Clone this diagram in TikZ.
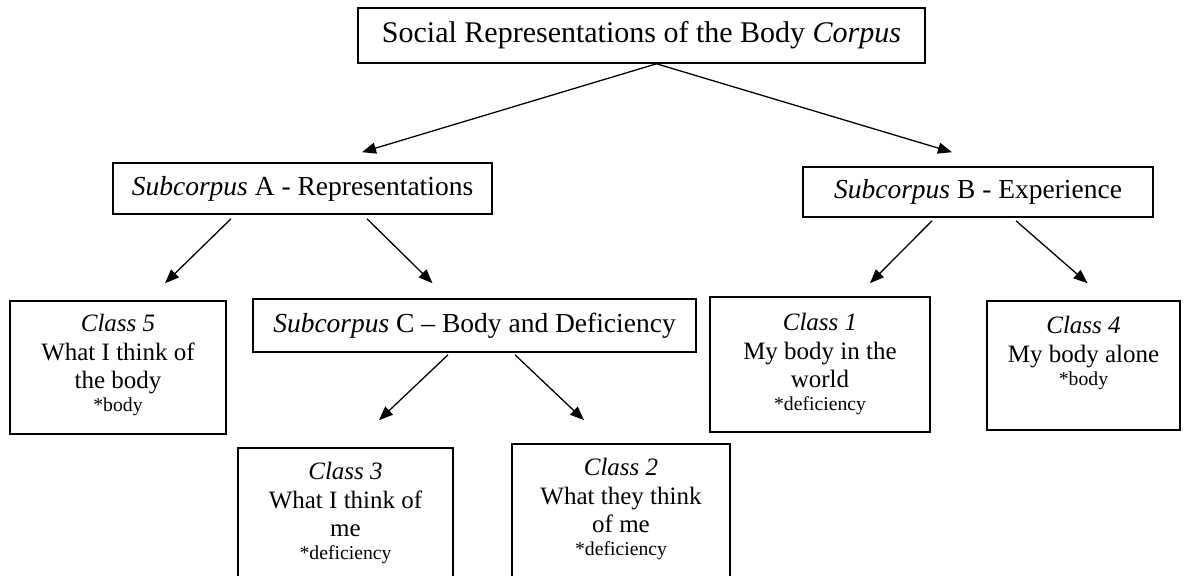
\documentclass[tikz,border=0pt]{standalone}
\usepackage{fontspec}
\setmainfont{Liberation Serif}
\usetikzlibrary{arrows.meta}
\newcommand{\kw}[1]{{\fontsize{19.7}{22}\selectfont *#1}}
\begin{document}
\begin{tikzpicture}[>={Triangle[length=14pt,width=11pt]}, x=1pt, y=-1pt,
  box/.style={draw, line width=1.6pt, inner sep=0pt},
  head/.style={box, font=\fontsize{27.5}{32}\selectfont},
  txt/.style={align=center, anchor=north, inner sep=0pt, font=\fontsize{25}{28.5}\selectfont},
  arr/.style={->, line width=1.3pt}]
\useasboundingbox (0,0) rectangle (1187,576);
% corpus and subcorpora
\node[head, minimum width=567pt, minimum height=55pt, font=\fontsize{30}{35}\selectfont](corpus) at (641.5,35.5){Social Representations of the Body \textit{Corpus}};
\node[head, minimum width=379pt, minimum height=51pt](subA) at (302.5,188.5){\textit{Subcorpus} A - Representations};
\node[head, minimum width=350pt, minimum height=50pt](subB) at (978,192){\textit{Subcorpus} B - Experience};
\node[head, minimum width=443pt, minimum height=53pt](subC) at (474.5,325.5){\textit{Subcorpus} C – Body and Deficiency};
% classes
\node[box, minimum width=216pt, minimum height=133pt](cl5) at (118,367.5){};
\node[box, minimum width=215pt, minimum height=160pt](cl3) at (345.5,528){};
\node[box, minimum width=218pt, minimum height=160pt](cl2) at (621,524){};
\node[box, minimum width=220pt, minimum height=135pt](cl1) at (820,364.5){};
\node[box, minimum width=193pt, minimum height=129pt](cl4) at (1083.5,365.5){};
\node[txt](cl5t) at ([yshift=-14pt]cl5.north){\textit{Class 5}\\What I think of\\the body\\[-5.5pt]\kw{body}};
\node[txt](cl3t) at ([yshift=-15pt]cl3.north){\textit{Class 3}\\What I think of\\me\\[-5.5pt]\kw{deficiency}};
\node[txt](cl2t) at ([yshift=-15pt]cl2.north){\textit{Class 2}\\What they think\\of me\\[-5.5pt]\kw{deficiency}};
\node[txt](cl1t) at ([yshift=-17pt]cl1.north){\textit{Class 1}\\My body in the\\world\\[-5.5pt]\kw{deficiency}};
\node[txt](cl4t) at ([yshift=-16pt]cl4.north){\textit{Class 4}\\My body alone\\[-5.5pt]\kw{body}};
% arrows
\draw[arr]([xshift=15pt]corpus.south)--([xshift=59.5pt,yshift=10pt]subA.north);
\draw[arr]([xshift=15pt]corpus.south)--([xshift=-26pt,yshift=14pt]subB.north);
\draw[arr]([xshift=-71.5pt,yshift=-4pt]subA.south)--([xshift=47pt,yshift=17pt]cl5.north);
\draw[arr]([xshift=64.5pt,yshift=-4pt]subA.south)--([xshift=-42pt,yshift=15pt]subC.north);
\draw[arr]([xshift=-26.5pt,yshift=-2pt]subC.south)--([xshift=33.5pt,yshift=27pt]cl3.north);
\draw[arr]([xshift=40.5pt,yshift=-2pt]subC.south)--([xshift=-37pt,yshift=23pt]cl2.north);
\draw[arr]([xshift=-46pt,yshift=-3pt]subB.south)--([xshift=50pt,yshift=13pt]cl1.north);
\draw[arr]([xshift=38pt,yshift=-3pt]subB.south)--([xshift=4pt,yshift=17pt]cl4.north);
\end{tikzpicture}
\end{document}
